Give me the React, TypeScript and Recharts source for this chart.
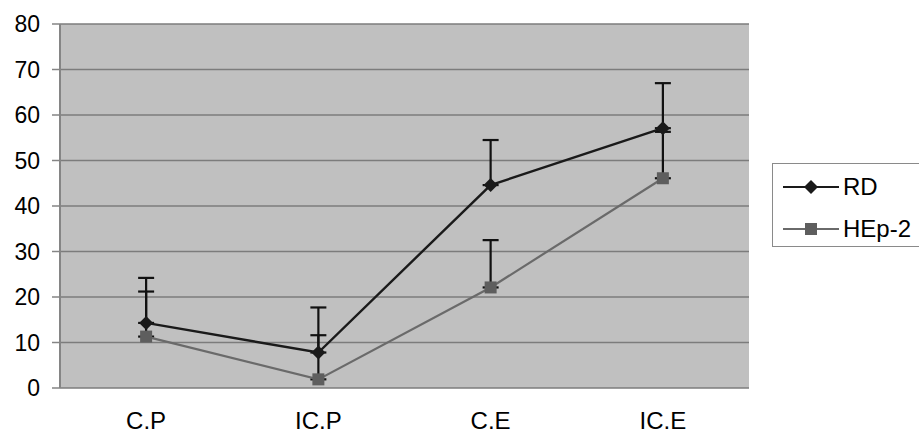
import {
  LineChart,
  Line,
  XAxis,
  YAxis,
  CartesianGrid,
  ErrorBar,
  Legend,
} from 'recharts';

const categories = ['C.P', 'IC.P', 'C.E', 'IC.E'];
const rdValues = [14.3, 7.8, 44.6, 57.1];
const rdErrors = [9.9, 9.9, 9.9, 9.9];
const hepValues = [11.3, 1.9, 22.1, 46.1];
const hepErrors = [9.9, 9.7, 10.4, 10.2];
const yTicks = [0, 10, 20, 30, 40, 50, 60, 70, 80];
const boundaryTicks = [0, 1, 2, 3, 4];

const data = categories.map((name, i) => ({
  name,
  rd: rdValues[i],
  rdErr: [0, rdErrors[i]],
  hep: hepValues[i],
  hepErr: [0, hepErrors[i]],
}));

const FONT = '"Liberation Sans", Arial, sans-serif';
const AXIS_GRAY = '#858585';
const RD_COLOR = '#1a1a1a';
const HEP_LINE = '#6a6a6a';
const HEP_MARK = '#5e5e5e';

const Diamond = (props: any) => {
  const { cx, cy, index } = props;
  if (cx == null || cy == null) return <g key={`d-${index}`} />;
  const r = 7;
  return (
    <polygon
      key={`d-${index}`}
      points={`${cx},${cy - r} ${cx + r},${cy} ${cx},${cy + r} ${cx - r},${cy}`}
      fill={RD_COLOR}
    />
  );
};

const Square = (props: any) => {
  const { cx, cy, index } = props;
  if (cx == null || cy == null) return <g key={`s-${index}`} />;
  const r = 6;
  return <rect key={`s-${index}`} x={cx - r} y={cy - r} width={r * 2} height={r * 2} fill={HEP_MARK} />;
};

const LegendBox = () => (
  <div
    style={{
      border: '1px solid #8a8a8a',
      background: '#fff',
      width: 160,
      height: 84,
      boxSizing: 'border-box',
      fontFamily: FONT,
      fontSize: 24,
      color: '#000',
      position: 'relative',
    }}
  >
    <svg width={60} height={82} style={{ position: 'absolute', left: 8, top: 0 }}>
      <line x1={2} y1={23} x2={58} y2={23} stroke={RD_COLOR} strokeWidth={2} />
      <polygon points="30,16 37,23 30,30 23,23" fill={RD_COLOR} />
      <line x1={2} y1={65} x2={58} y2={65} stroke={HEP_LINE} strokeWidth={2} />
      <rect x={24} y={59} width={12} height={12} fill={HEP_MARK} />
    </svg>
    <div style={{ position: 'absolute', left: 70, top: 9, lineHeight: '28px' }}>RD</div>
    <div style={{ position: 'absolute', left: 70, top: 51, lineHeight: '28px' }}>HEp-2</div>
  </div>
);

export default function App() {
  return (
    <div style={{ position: 'absolute', left: 0, top: 0, width: 919, height: 435, background: '#fff' }}>
      <LineChart
        width={919}
        height={435}
        data={data}
        margin={{ top: 24, right: 170, bottom: 0, left: 0 }}
      >
        <CartesianGrid
          vertical={false}
          fill="#c0c0c0"
          fillOpacity={1}
          stroke="#7c7c7c"
          strokeWidth={1.5}
          yAxisId="left"
          xAxisId="cat"
        />
        <XAxis
          xAxisId="bounds"
          type="number"
          domain={[0, 4]}
          ticks={boundaryTicks}
          tick={false}
          tickSize={8}
          height={0}
          allowDataOverflow
          axisLine={{ stroke: AXIS_GRAY, strokeWidth: 2 }}
          tickLine={{ stroke: AXIS_GRAY, strokeWidth: 1.5 }}
        />
        <XAxis
          xAxisId="cat"
          dataKey="name"
          scale="band"
          height={47}
          tickSize={0}
          tickMargin={24}
          axisLine={false}
          tickLine={false}
          tick={{ fill: '#000', fontSize: 24, fontFamily: FONT }}
        />
        <YAxis
          yAxisId="left"
          domain={[0, 80]}
          ticks={yTicks}
          width={60}
          tickSize={8}
          tickMargin={12}
          interval={0}
          axisLine={{ stroke: AXIS_GRAY, strokeWidth: 2 }}
          tickLine={{ stroke: AXIS_GRAY, strokeWidth: 1.5 }}
          tick={{ fill: '#000', fontSize: 23, fontFamily: FONT }}
        />
        <YAxis
          yAxisId="right"
          orientation="right"
          domain={[0, 80]}
          width={0}
          tick={false}
          tickLine={false}
          axisLine={{ stroke: AXIS_GRAY, strokeWidth: 2 }}
        />
        <Line
          xAxisId="cat"
          yAxisId="left"
          dataKey="hep"
          name="HEp-2"
          stroke={HEP_LINE}
          strokeWidth={2.2}
          dot={Square}
          activeDot={false}
          isAnimationActive={false}
        >
          <ErrorBar dataKey="hepErr" direction="y" width={8} stroke="#111" strokeWidth={2.2} />
        </Line>
        <Line
          xAxisId="cat"
          yAxisId="left"
          dataKey="rd"
          name="RD"
          stroke={RD_COLOR}
          strokeWidth={2.4}
          dot={Diamond}
          activeDot={false}
          isAnimationActive={false}
        >
          <ErrorBar dataKey="rdErr" direction="y" width={8} stroke="#111" strokeWidth={2.2} />
        </Line>
        <Legend
          layout="vertical"
          align="center"
          verticalAlign="middle"
          content={<LegendBox />}
          wrapperStyle={{ left: 772, top: 163, width: 160, height: 84 }}
        />
      </LineChart>
    </div>
  );
}
